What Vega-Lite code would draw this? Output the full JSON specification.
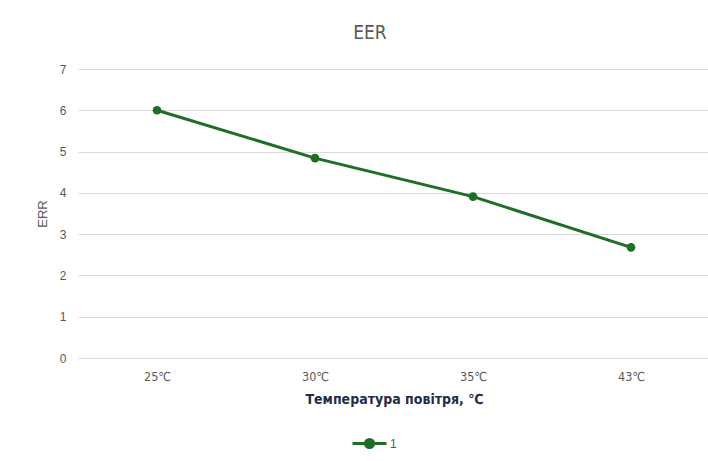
{
  "$schema": "https://vega.github.io/schema/vega-lite/v6.json",
  "autosize": "none",
  "width": 632,
  "height": 289,
  "padding": {"left": 78, "top": 69, "right": 0, "bottom": 103},
  "background": "white",
  "title": {
    "text": "EER",
    "fontSize": 19,
    "font": "DejaVu Sans Condensed, Roboto",
    "fontWeight": "normal",
    "color": "#595959",
    "offset": 20,
    "dx": -24
  },
  "data": {
    "values": [
      {"temp": "25℃", "eer": 6.0, "series": "1"},
      {"temp": "30℃", "eer": 4.84, "series": "1"},
      {"temp": "35℃", "eer": 3.91, "series": "1"},
      {"temp": "43℃", "eer": 2.68, "series": "1"}
    ]
  },
  "mark": {
    "type": "line",
    "strokeWidth": 3,
    "point": {"filled": true, "size": 75, "opacity": 1}
  },
  "encoding": {
    "x": {
      "field": "temp",
      "type": "ordinal",
      "sort": null,
      "scale": {"paddingInner": 0, "paddingOuter": 0},
      "axis": {
        "title": "Температура повітря, ℃",
        "titleFont": "DejaVu Sans Condensed, Roboto",
        "titleFontSize": 14,
        "titleFontWeight": "bold",
        "titleColor": "#1f2d4a",
        "titlePadding": 10,
        "labelFont": "DejaVu Sans Condensed, Roboto",
        "labelFontSize": 12.5,
        "labelColor": "#595959",
        "labelPadding": 12,
        "labelAngle": 0,
        "domain": false,
        "ticks": false,
        "grid": false
      }
    },
    "y": {
      "field": "eer",
      "type": "quantitative",
      "scale": {"domain": [0, 7], "nice": false},
      "axis": {
        "title": "ERR",
        "titleFont": "Liberation Sans",
        "titleFontSize": 13,
        "titleFontWeight": "normal",
        "titleColor": "#595959",
        "titlePadding": 10,
        "labelFont": "Liberation Sans",
        "labelFontSize": 12,
        "labelColor": "#595959",
        "labelPadding": 12,
        "values": [0, 1, 2, 3, 4, 5, 6, 7],
        "labelOverlap": false,
        "domain": false,
        "ticks": false,
        "grid": true,
        "gridColor": "#d9d9d9",
        "gridWidth": 1.2
      }
    },
    "color": {
      "field": "series",
      "type": "nominal",
      "scale": {"range": ["#1e6e27"]},
      "legend": {
        "title": null,
        "orient": "none",
        "legendX": 273,
        "legendY": 356,
        "labelFont": "Liberation Sans",
        "labelFontSize": 12,
        "labelColor": "#595959",
        "symbolType": "M-1,0H1M-0.24,0a0.24,0.24 0 1,0 0.48,0a0.24,0.24 0 1,0 -0.48,0",
        "symbolSize": 1156,
        "symbolStrokeWidth": 3,
        "symbolFillColor": "#1e6e27",
        "labelOffset": 2
      }
    }
  },
  "config": {"view": {"stroke": null}}
}
